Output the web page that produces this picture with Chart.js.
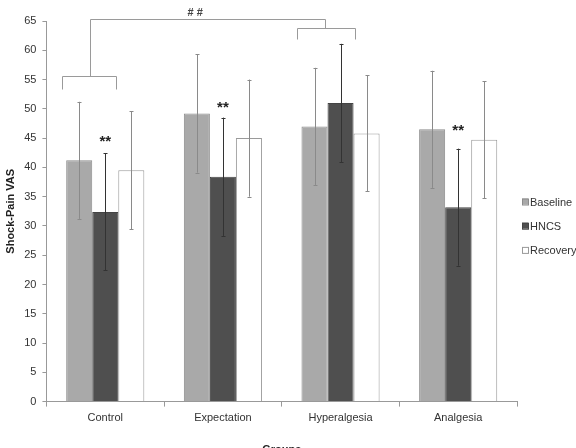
<!DOCTYPE html>
<html>
<head>
<meta charset="utf-8">
<script src="https://cdn.jsdelivr.net/npm/chart.js@4.4.0/dist/chart.umd.min.js"></script>
<style>
html,body{margin:0;padding:0;background:#fff;overflow:hidden;}
#wrap{position:relative;width:576px;height:459px;}
</style>
</head>
<body>
<div id="wrap"><canvas id="c"></canvas></div>
<script>
// ---- data ----
const categories = ['Control', 'Expectation', 'Hyperalgesia', 'Analgesia'];
const seriesNames = ['Baseline', 'HNCS', 'Recovery'];
const baseline = [41.2, 49.2, 47.0, 46.5];
const hncs = [32.4, 38.4, 51.0, 33.2];
const recovery = [39.5, 45.0, 45.8, 44.7];
const baselineErr = [10.0, 10.1, 10.0, 10.0];
const hncsErr = [10.0, 10.1, 10.1, 10.0];
const recoveryErr = [10.1, 10.0, 9.9, 10.0];
const yTicks = [0, 5, 10, 15, 20, 25, 30, 35, 40, 45, 50, 55, 60, 65];
// significance marks (category index, value)
const starCategories = [0, 1, 3];
const starValues = [44.8, 50.7, 46.8];

// annotation geometry in data units (category offset as fraction of category width)
const bracketDefs = [
  {cat: 0, from: -0.364, to: 0.095, y: 55.6, leg: 53.4, mid: -0.126},
  {cat: 2, from: -0.368, to: 0.125, y: 63.8, leg: 61.9, mid: -0.13}
];
const topLineY = 65.35;
const hashMark = {cat: 1, off: -0.235, y: 66.4, text: '# #'};

const fills = ['#a9a9a9', '#4f4f4f', '#ffffff'];
const borders = ['#8c8c8c', '#444444', '#9a9a9a'];
const errColors = ['#8a8a8a', '#333333', '#8a8a8a'];
const errs = [baselineErr, hncsErr, recoveryErr];

const errorBarPlugin = {
  id: 'errbars',
  afterDatasetsDraw(chart) {
    const ctx = chart.ctx, y = chart.scales.y;
    ctx.save();
    chart.data.datasets.forEach((ds, di) => {
      const meta = chart.getDatasetMeta(di);
      meta.data.forEach((bar, i) => {
        const v = ds.data[i], e = errs[di][i];
        const yt = y.getPixelForValue(v + e), yb = y.getPixelForValue(v - e);
        const x = Math.round(bar.x) + 0.5;
        ctx.strokeStyle = errColors[di];
        ctx.lineWidth = 1;
        ctx.beginPath();
        ctx.moveTo(x, yt); ctx.lineTo(x, yb);
        ctx.moveTo(x - 2, Math.round(yt) + 0.5); ctx.lineTo(x + 2, Math.round(yt) + 0.5);
        ctx.moveTo(x - 2, Math.round(yb) + 0.5); ctx.lineTo(x + 2, Math.round(yb) + 0.5);
        ctx.stroke();
      });
    });
    ctx.restore();
  }
};

const annotPlugin = {
  id: 'annot',
  afterDraw(chart) {
    const ctx = chart.ctx, xs = chart.scales.x, ys = chart.scales.y;
    const cw = xs.getPixelForValue(1) - xs.getPixelForValue(0);
    const px = (cat, off) => Math.round(xs.getPixelForValue(cat) + off * cw) + 0.5;
    const py = v => Math.round(ys.getPixelForValue(v)) + 0.5;
    ctx.save();
    ctx.strokeStyle = '#9a9a9a';
    ctx.lineWidth = 1;
    ctx.beginPath();
    bracketDefs.forEach(b => {
      ctx.moveTo(px(b.cat, b.from), py(b.leg));
      ctx.lineTo(px(b.cat, b.from), py(b.y));
      ctx.lineTo(px(b.cat, b.to), py(b.y));
      ctx.lineTo(px(b.cat, b.to), py(b.leg));
      ctx.moveTo(px(b.cat, b.mid), py(b.y));
      ctx.lineTo(px(b.cat, b.mid), py(topLineY));
    });
    ctx.moveTo(px(bracketDefs[0].cat, bracketDefs[0].mid), py(topLineY));
    ctx.lineTo(px(bracketDefs[1].cat, bracketDefs[1].mid), py(topLineY));
    ctx.stroke();
    // stars
    const hMeta = chart.getDatasetMeta(1);
    ctx.fillStyle = '#222';
    ctx.textAlign = 'center';
    ctx.textBaseline = 'middle';
    ctx.font = 'bold 15px "Liberation Sans", Arial, sans-serif';
    starCategories.forEach((c, k) => {
      ctx.fillText('**', hMeta.data[c].x, ys.getPixelForValue(starValues[k]) + 3);
    });
    ctx.font = 'bold 11px "Liberation Sans", Arial, sans-serif';
    ctx.fillStyle = '#444';
    ctx.fillText(hashMark.text, xs.getPixelForValue(hashMark.cat) + hashMark.off * cw, ys.getPixelForValue(hashMark.y));
    // legend
    ctx.font = '11px "Liberation Sans", Arial, sans-serif';
    ctx.textAlign = 'left';
    const lx = chart.chartArea.right + 5;
    const ly0 = chart.chartArea.top + 181;
    chart.data.datasets.forEach((ds, i) => {
      const yy = ly0 + i * 24.2;
      ctx.fillStyle = fills[i];
      ctx.fillRect(lx, yy - 3.5, 6, 6);
      ctx.strokeStyle = borders[i];
      ctx.strokeRect(lx + 0.5, yy - 3, 6, 6);
      ctx.fillStyle = '#333';
      ctx.fillText(ds.label, lx + 8, yy + 0.5);
    });
    ctx.restore();
  }
};

const datasets = [baseline, hncs, recovery].map((d, i) => ({
  label: seriesNames[i],
  data: d,
  backgroundColor: fills[i],
  borderColor: borders[i],
  borderWidth: 1,
  categoryPercentage: 0.664,
  barPercentage: 1.0
}));

new Chart(document.getElementById('c'), {
  type: 'bar',
  data: {labels: categories, datasets},
  plugins: [errorBarPlugin, annotPlugin],
  options: {
    responsive: true,
    maintainAspectRatio: false,
    animation: false,
    layout: {padding: {left: 2, right: 59, top: 21, bottom: 2}},
    plugins: {legend: {display: false}, tooltip: {enabled: false}},
    scales: {
      x: {
        grid: {display: true, drawOnChartArea: false, drawTicks: true, tickLength: 5, color: '#999', offset: true},
        border: {display: true, color: '#999'},
        ticks: {padding: 5, color: '#333', font: {family: '"Liberation Sans", Arial, sans-serif', size: 11}},
        title: {display: true, text: 'Groups', color: '#222', padding: {top: 14, bottom: 0},
          font: {family: '"Liberation Sans", Arial, sans-serif', size: 11, weight: 'bold'}}
      },
      y: {
        min: 0, max: 65,
        afterBuildTicks: axis => { axis.ticks = yTicks.map(v => ({value: v})); },
        grid: {display: true, drawOnChartArea: false, drawTicks: true, tickLength: 4, color: '#999'},
        border: {display: true, color: '#999'},
        ticks: {padding: 6, color: '#333', font: {family: '"Liberation Sans", Arial, sans-serif', size: 11}},
        title: {display: true, text: 'Shock-Pain VAS', color: '#222', padding: {top: 2, bottom: 1},
          font: {family: '"Liberation Sans", Arial, sans-serif', size: 11, weight: 'bold'}}
      }
    }
  }
});
</script>
</body>
</html>
